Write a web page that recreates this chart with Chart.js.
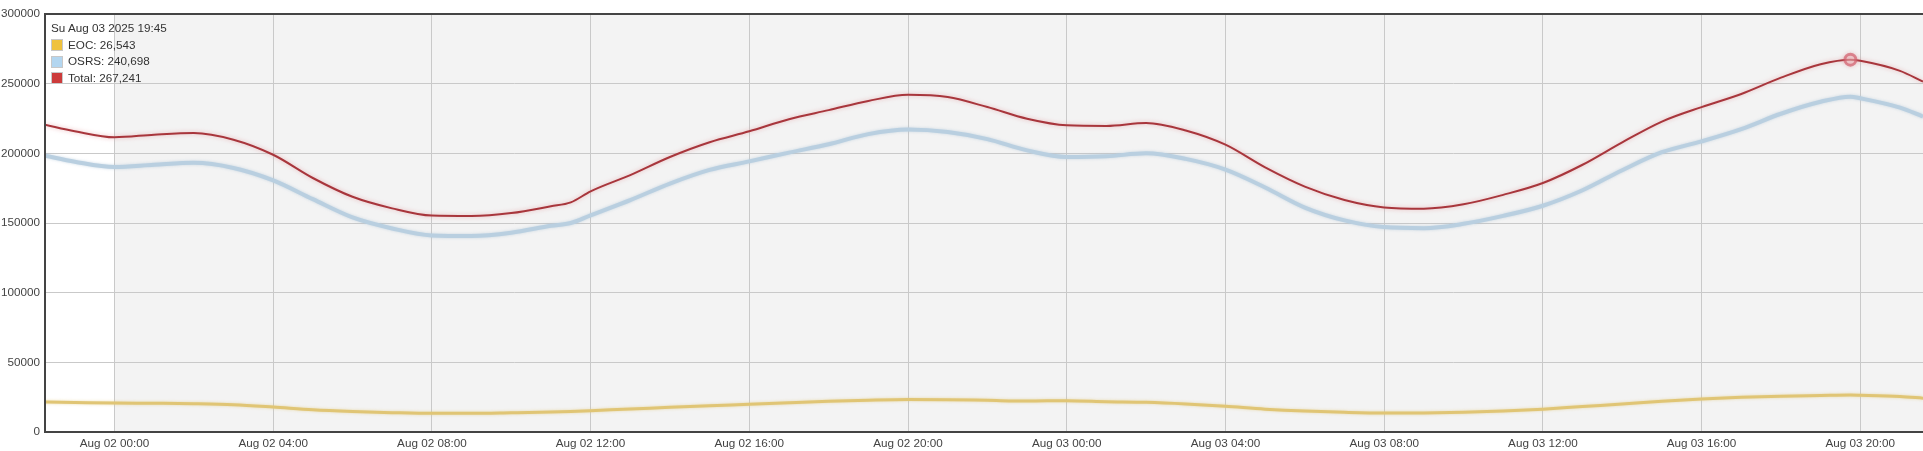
<!DOCTYPE html>
<html>
<head>
<meta charset="utf-8">
<script src="https://cdn.jsdelivr.net/npm/chart.js@4.4.1/dist/chart.umd.min.js"></script>
<style>
  html, body { margin: 0; padding: 0; background: #fff; overflow: hidden; }
  #wrap { position: relative; width: 1923px; height: 451px; }
  canvas { display: block; }
  #info { position: absolute; left: 51px; top: 20px; font: 11.7px "Liberation Sans", Arial, sans-serif; color: #333; pointer-events: none; }
  #info .row { display: flex; align-items: center; height: 16.7px; line-height: 16.7px; white-space: nowrap; }
  #info .sw { width: 10px; height: 10px; border: 1px solid #c8c8c8; margin-right: 5px; box-sizing: content-box; }
</style>
</head>
<body>
<div id="wrap">
  <canvas id="c" width="1923" height="451"></canvas>
  <div id="info"></div>
</div>
<script>
// ---- data (hours relative to Aug 02 2025 00:00) ----
const hours = [-1.75, -1, 0, 1, 2, 3, 4, 5, 6, 7, 8, 9, 10, 11, 11.5, 12, 13, 14, 15, 16, 17, 18, 19, 20, 21, 22, 23,
  24, 25, 26, 27, 28, 29, 30, 31, 32, 33, 34, 35, 36, 37, 38, 39, 40, 41, 42, 43, 43.75, 44, 45, 45.58];

const eoc = [21500, 21200, 20800, 20600, 20300, 19600, 17900, 15900, 14700, 13900, 13400, 13400, 13800, 14300, 14700,
  15300, 16500, 17700, 18900, 19900, 21000, 22000, 22800, 23300, 23200, 22700, 22200,
  22500, 21800, 21300, 20100, 18400, 16400, 15000, 14100, 13600, 13700, 14100, 15000, 16400, 18300, 20100, 22100,
  23700, 24900, 25700, 26200, 26543, 26400, 25500, 24300];

const osrs = [198300, 194000, 190200, 191800, 193200, 189500, 180600, 167100, 154000, 146100, 141100, 140700, 143000,
  148000, 150000, 155500, 166400, 178300, 188100, 194200, 200500, 206500, 213800, 217100, 215300, 210200, 202100,
  197400, 197900, 200000, 196000, 188300, 175500, 161100, 151900, 147100, 146300, 149400, 155100, 162400, 173500,
  187900, 200800, 208600, 217400, 228400, 237000, 240698, 239500, 232800, 226400];

const total = [220500, 215900, 211500, 213400, 214600, 209800, 199000, 182300, 168800, 160500, 155300, 155000, 157100,
  162000, 164800, 172700, 184400, 197400, 208000, 215800, 224500, 231000, 237600, 242000, 240400, 233200, 224800,
  220100, 219700, 221800, 216400, 206200, 189900, 176100, 166500, 161200, 160300, 163400, 170200, 178700, 191800,
  207900, 222800, 233200, 242600, 254300, 264000, 267241, 266400, 259200, 251500];

const tickHours = [0, 4, 8, 12, 16, 20, 24, 28, 32, 36, 40, 44];
const tickLabels = ["Aug 02 00:00", "Aug 02 04:00", "Aug 02 08:00", "Aug 02 12:00", "Aug 02 16:00", "Aug 02 20:00",
  "Aug 03 00:00", "Aug 03 04:00", "Aug 03 08:00", "Aug 03 12:00", "Aug 03 16:00", "Aug 03 20:00"];
const yTicks = [0, 50000, 100000, 150000, 200000, 250000, 300000];

const seriesNames = ["EOC", "OSRS", "Total"];
const hoverHour = 43.75;
const hoverTitle = "Su Aug 03 2025 19:45";
const dayStartHour = 0;
// --------------------------------------------------

const hoverIdx = hours.indexOf(hoverHour);
const pts = arr => hours.map((h, i) => ({ x: h, y: arr[i] }));
const FONT = '"Liberation Sans", Arial, sans-serif';

const bgPlugin = {
  id: 'bg',
  beforeDraw(chart) {
    const { ctx, chartArea: a, scales: { x } } = chart;
    ctx.save();
    ctx.fillStyle = '#ffffff';
    ctx.fillRect(a.left, a.top, a.right - a.left, a.bottom - a.top);
    const x0 = x.getPixelForValue(dayStartHour);
    ctx.fillStyle = '#f3f3f3';
    ctx.fillRect(x0, a.top, a.right - x0, a.bottom - a.top);
    ctx.restore();
  },
  afterDatasetsDraw(chart) {
    const { ctx, chartArea: a } = chart;
    ctx.save();
    ctx.strokeStyle = '#444444';
    ctx.lineWidth = 2;
    ctx.beginPath();
    ctx.moveTo(a.right, a.top); ctx.lineTo(a.left, a.top);
    ctx.lineTo(a.left, a.bottom); ctx.lineTo(a.right, a.bottom);
    ctx.stroke();
    ctx.restore();
  }
};

const glowPlugin = {
  id: 'glow',
  beforeDatasetDraw(chart, args) {
    const ds = chart.data.datasets[args.index];
    chart.ctx.save();
    chart.ctx.shadowColor = ds.glowColor;
    chart.ctx.shadowBlur = ds.glowBlur;
  },
  afterDatasetDraw(chart) {
    chart.ctx.restore();
  }
};

const chart = new Chart(document.getElementById('c'), {
  type: 'line',
  data: {
    datasets: [
      {
        label: seriesNames[2], data: pts(total),
        borderColor: '#a8363c', borderWidth: 2,
        glowColor: 'rgba(225,140,145,0.6)', glowBlur: 4,
        pointRadius: c => c.dataIndex === hoverIdx ? 5.5 : 0,
        pointBorderColor: 'rgba(210,95,110,0.7)',
        pointBackgroundColor: 'rgba(240,195,200,0.4)',
        pointBorderWidth: 3,
        cubicInterpolationMode: 'monotone'
      },
      {
        label: seriesNames[1], data: pts(osrs),
        borderColor: '#b9cfe0', borderWidth: 4,
        glowColor: 'rgba(170,195,215,0.6)', glowBlur: 3,
        pointRadius: 0,
        cubicInterpolationMode: 'monotone'
      },
      {
        label: seriesNames[0], data: pts(eoc),
        borderColor: '#e0c575', borderWidth: 3,
        glowColor: 'rgba(225,200,120,0.6)', glowBlur: 3,
        pointRadius: 0,
        cubicInterpolationMode: 'monotone'
      }
    ]
  },
  options: {
    responsive: false,
    animation: false,
    devicePixelRatio: 1,
    layout: { padding: { top: 14, left: 0, right: 0, bottom: 0 } },
    plugins: { legend: { display: false }, tooltip: { enabled: false } },
    events: [],
    scales: {
      x: {
        type: 'linear',
        min: hours[0],
        max: hours[hours.length - 1],
        afterFit: s => { s.height = 19; },
        afterBuildTicks: s => { s.ticks = tickHours.map(v => ({ value: v })); },
        border: { display: false },
        grid: { color: '#c9c9c9', drawTicks: false, lineWidth: 1 },
        ticks: {
          autoSkip: false, maxRotation: 0, padding: 5,
          color: '#444', font: { family: FONT, size: 11.7 },
          callback: v => { const i = tickHours.indexOf(v); return i >= 0 ? tickLabels[i] : ''; }
        }
      },
      y: {
        min: yTicks[0],
        max: yTicks[yTicks.length - 1],
        afterFit: s => { s.width = 45; },
        afterBuildTicks: s => { s.ticks = yTicks.map(v => ({ value: v })); },
        border: { display: false },
        grid: { color: '#c9c9c9', drawTicks: false, lineWidth: 1 },
        ticks: {
          padding: 5, color: '#444', font: { family: FONT, size: 11.7 },
          callback: v => String(v)
        }
      }
    }
  },
  plugins: [bgPlugin, glowPlugin]
});

// hover info box (values read from the data arrays)
const swatch = ['#efc23e', '#b3d6f0', '#cc3b3b'];
const vals = [eoc[hoverIdx], osrs[hoverIdx], total[hoverIdx]];
const info = document.getElementById('info');
let html = '<div class="row">' + hoverTitle + '</div>';
for (let i = 0; i < 3; i++) {
  html += '<div class="row"><span class="sw" style="background:' + swatch[i] + '"></span>' +
    seriesNames[i] + ': ' + vals[i].toLocaleString('en-US') + '</div>';
}
info.innerHTML = html;
</script>
</body>
</html>
